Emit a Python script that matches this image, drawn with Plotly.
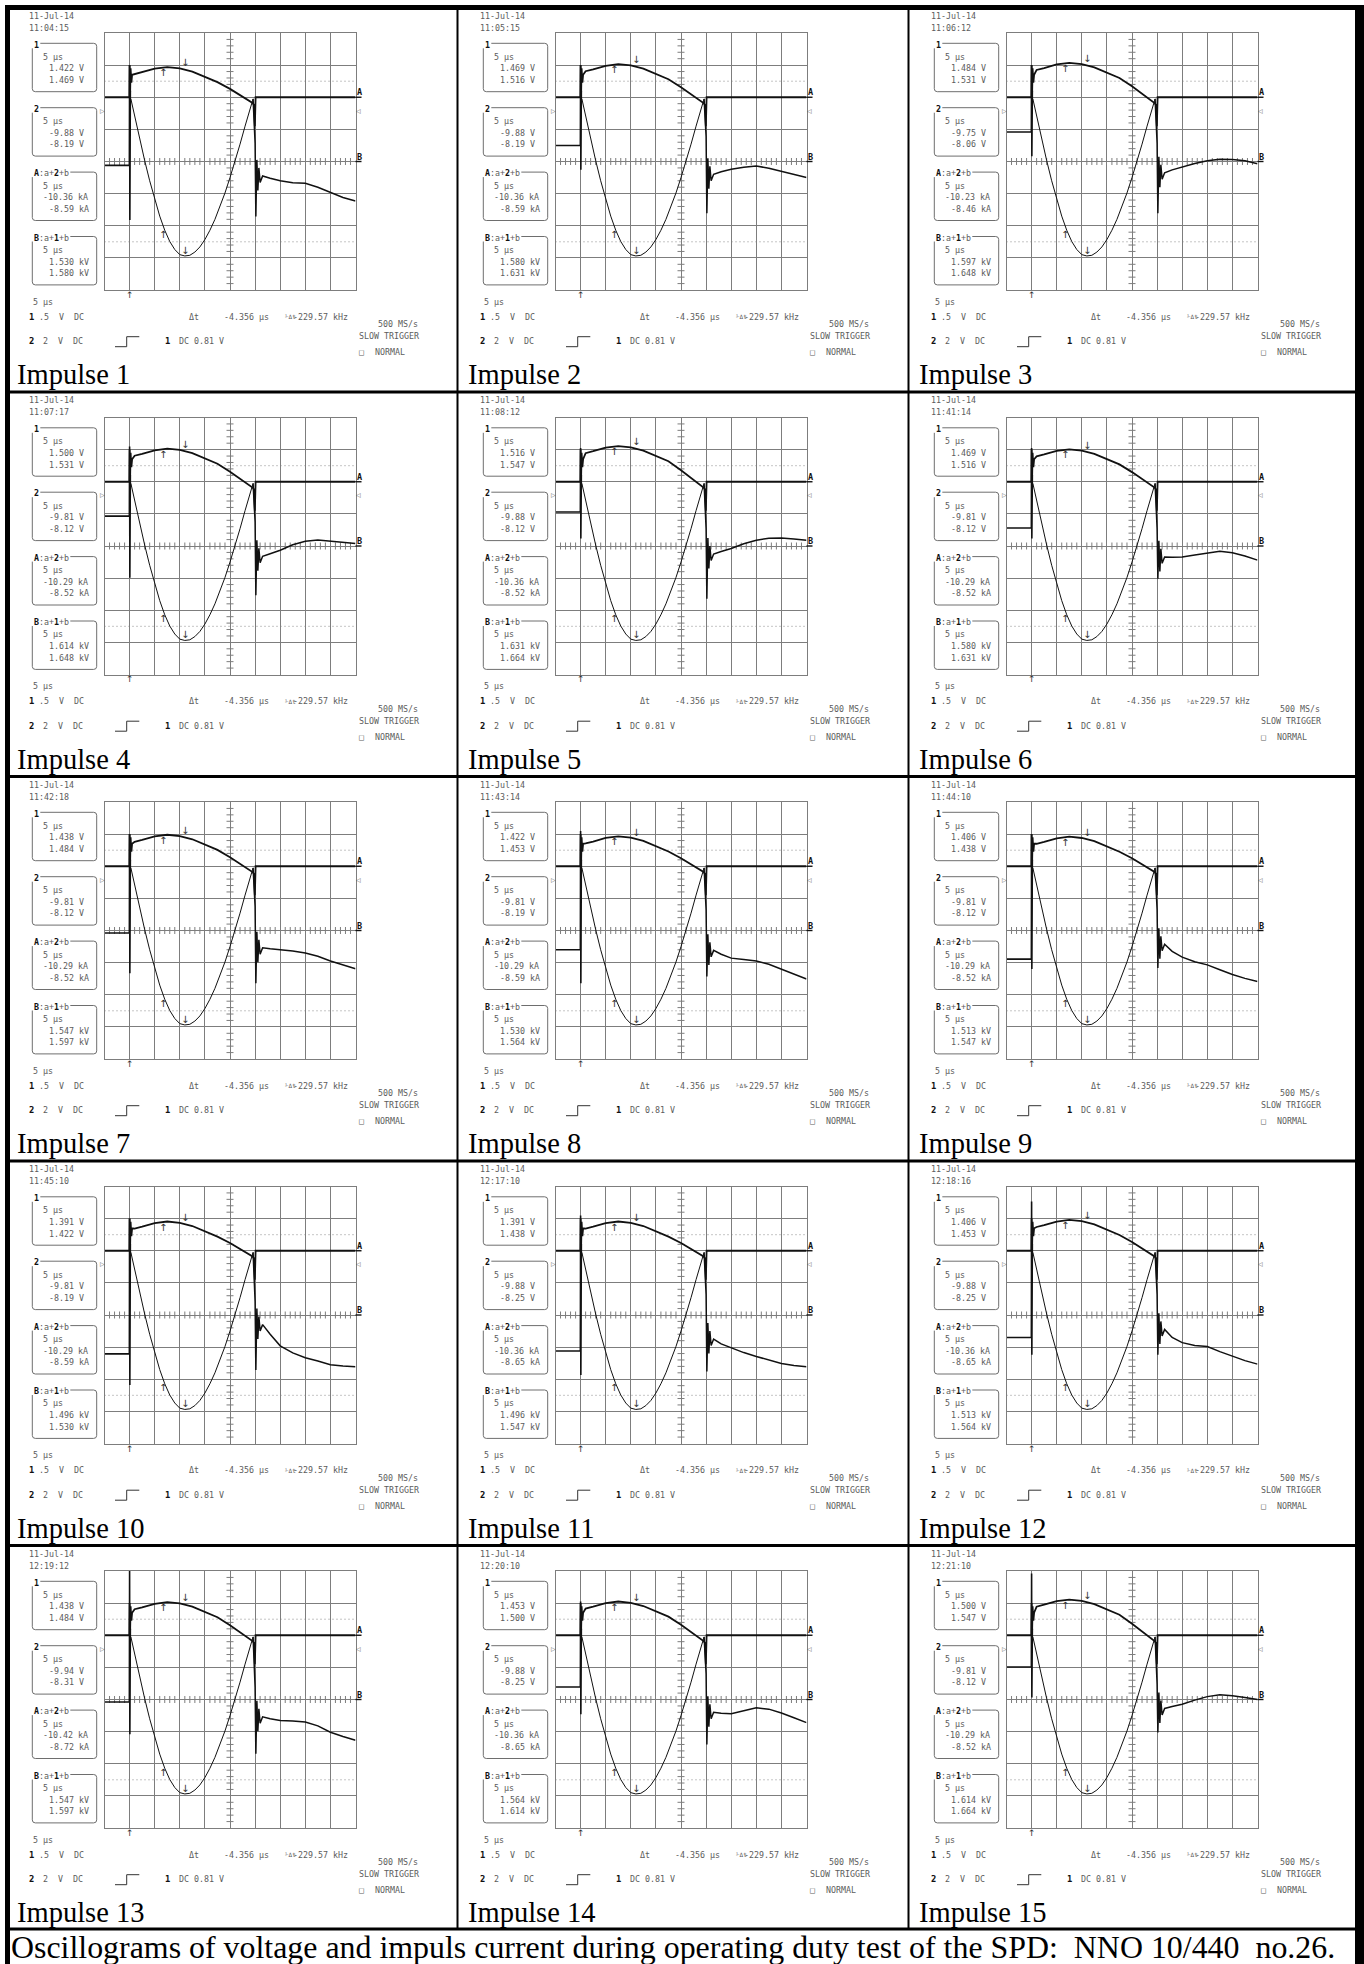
import plotly.graph_objects as go

W, H = 1364, 1964
COL_X = [6.5, 457.5, 908.5]
ROW_Y = [7.5, 392.0, 776.5, 1161.0, 1545.5]

# ---------------- text data ----------------
DATE = "11-Jul-14"
TIMES = ["11:04:15", "11:05:15", "11:06:12", "11:07:17", "11:08:12",
         "11:41:14", "11:42:18", "11:43:14", "11:44:10", "11:45:10",
         "12:17:10", "12:18:16", "12:19:12", "12:20:10", "12:21:10"]
CH1_VALS = [("1.422 V", "1.469 V"), ("1.469 V", "1.516 V"), ("1.484 V", "1.531 V"),
            ("1.500 V", "1.531 V"), ("1.516 V", "1.547 V"), ("1.469 V", "1.516 V"),
            ("1.438 V", "1.484 V"), ("1.422 V", "1.453 V"), ("1.406 V", "1.438 V"),
            ("1.391 V", "1.422 V"), ("1.391 V", "1.438 V"), ("1.406 V", "1.453 V"),
            ("1.438 V", "1.484 V"), ("1.453 V", "1.500 V"), ("1.500 V", "1.547 V")]
CH2_VALS = [("-9.88 V", "-8.19 V"), ("-9.88 V", "-8.19 V"), ("-9.75 V", "-8.06 V"),
            ("-9.81 V", "-8.12 V"), ("-9.88 V", "-8.12 V"), ("-9.81 V", "-8.12 V"),
            ("-9.81 V", "-8.12 V"), ("-9.81 V", "-8.19 V"), ("-9.81 V", "-8.12 V"),
            ("-9.81 V", "-8.19 V"), ("-9.88 V", "-8.25 V"), ("-9.88 V", "-8.25 V"),
            ("-9.94 V", "-8.31 V"), ("-9.88 V", "-8.25 V"), ("-9.81 V", "-8.12 V")]
A_VALS = [("-10.36 kA", "-8.59 kA"), ("-10.36 kA", "-8.59 kA"), ("-10.23 kA", "-8.46 kA"),
          ("-10.29 kA", "-8.52 kA"), ("-10.36 kA", "-8.52 kA"), ("-10.29 kA", "-8.52 kA"),
          ("-10.29 kA", "-8.52 kA"), ("-10.29 kA", "-8.59 kA"), ("-10.29 kA", "-8.52 kA"),
          ("-10.29 kA", "-8.59 kA"), ("-10.36 kA", "-8.65 kA"), ("-10.36 kA", "-8.65 kA"),
          ("-10.42 kA", "-8.72 kA"), ("-10.36 kA", "-8.65 kA"), ("-10.29 kA", "-8.52 kA")]
B_VALS = [("1.530 kV", "1.580 kV"), ("1.580 kV", "1.631 kV"), ("1.597 kV", "1.648 kV"),
          ("1.614 kV", "1.648 kV"), ("1.631 kV", "1.664 kV"), ("1.580 kV", "1.631 kV"),
          ("1.547 kV", "1.597 kV"), ("1.530 kV", "1.564 kV"), ("1.513 kV", "1.547 kV"),
          ("1.496 kV", "1.530 kV"), ("1.496 kV", "1.547 kV"), ("1.513 kV", "1.564 kV"),
          ("1.547 kV", "1.597 kV"), ("1.564 kV", "1.614 kV"), ("1.614 kV", "1.664 kV")]
LABELS = ["Impulse %d" % k for k in range(1, 16)]
CAPTION = ("Oscillograms of voltage and impuls current during operating duty test of the SPD:"
           "\u00a0\u00a0NNO 10/440\u00a0\u00a0no.26.")

# ---------------- trace data (x: divisions 0-10, y: divisions from top 0-8) ----------------
VOLT_X = [0, 0.99, 1.0, 1.02, 1.04, 1.07, 1.1,
          1.2, 1.5, 2.0, 2.5, 3.0, 3.5, 4.0, 4.5, 5.0, 5.5,
          5.9, 5.96, 5.99, 6.02, 10]
VOLT_HEAD = [2.0, 2.0, 1.0, 1.9, 1.1, 1.55, 1.3]
VOLT_END = [2.18, 2.25, 2.9, 2.0, 2.0]
VOLT_MID = [
    [1.28, 1.22, 1.11, 1.06, 1.10, 1.20, 1.36, 1.53, 1.74, 1.98],
    [1.19, 1.13, 1.02, 0.97, 1.01, 1.11, 1.27, 1.44, 1.69, 1.95],
    [1.15, 1.09, 0.98, 0.93, 0.97, 1.07, 1.23, 1.40, 1.66, 1.94],
    [1.19, 1.13, 1.02, 0.97, 1.01, 1.11, 1.27, 1.44, 1.69, 1.95],
    [1.11, 1.05, 0.94, 0.89, 0.93, 1.03, 1.19, 1.36, 1.64, 1.93],
    [1.21, 1.15, 1.04, 0.99, 1.03, 1.13, 1.29, 1.46, 1.70, 1.96],
    [1.24, 1.18, 1.07, 1.02, 1.06, 1.16, 1.32, 1.49, 1.72, 1.97],
    [1.29, 1.23, 1.12, 1.07, 1.11, 1.21, 1.37, 1.54, 1.75, 1.98],
    [1.30, 1.24, 1.13, 1.08, 1.12, 1.22, 1.38, 1.55, 1.75, 1.99],
    [1.31, 1.25, 1.14, 1.09, 1.13, 1.23, 1.39, 1.56, 1.76, 1.99],
    [1.31, 1.25, 1.14, 1.09, 1.13, 1.23, 1.39, 1.56, 1.76, 1.99],
    [1.26, 1.20, 1.09, 1.04, 1.08, 1.18, 1.34, 1.51, 1.73, 1.97],
    [1.19, 1.13, 1.02, 0.97, 1.01, 1.11, 1.27, 1.44, 1.69, 1.95],
    [1.17, 1.11, 1.00, 0.95, 0.99, 1.09, 1.25, 1.42, 1.67, 1.95],
    [1.11, 1.05, 0.94, 0.89, 0.93, 1.03, 1.19, 1.36, 1.64, 1.93],
]

TRIG_X = [0, 0.99, 1.0, 1.01, 1.03]
CUR_PRE = [4.12, 3.50, 3.08, 3.07, 2.94, 3.44, 4.08, 4.60, 4.89, 5.21, 5.12, 4.70, 4.08, 3.61, 2.99]
TRIG_HIGH = [1.0, 1.0, 1.0, 0.9, 0.95, 0.95, 1.0, 0.9, 1.0, 1.0, 0.9, 0.47, 0.0, 0.95, 0.08]
TRIG_LOW = [5.82, 4.26, 3.84, 4.99, 3.77, 3.77, 5.33, 5.64, 5.20, 6.18, 5.87, 5.24, 5.08, 4.46, 3.94]
CUR_JOIN = 1.8

WAVE_X = [1.05, 1.2, 1.4, 1.6, 1.8, 2.0, 2.2, 2.4, 2.6, 2.8, 3.0, 3.2, 3.4, 3.6, 3.8,
          4.0, 4.2, 4.4, 4.6, 4.8, 5.0, 5.2, 5.4, 5.6, 5.8, 5.92]
WAVE_Y = [2.05, 2.58, 3.35, 3.97, 4.60, 5.15, 5.70, 6.14, 6.49, 6.74, 6.90, 6.94, 6.92, 6.82, 6.66,
          6.43, 6.14, 5.80, 5.41, 4.98, 4.50, 4.00, 3.46, 2.90, 2.33, 2.05]

POST_X = [5.92, 6.0, 6.03, 6.07, 6.11, 6.15, 6.2]
SPIKE_HIGH = [3.43, 3.22, 3.43, 3.25, 3.46, 3.46, 3.25, 3.35, 3.35, 3.58, 3.37, 3.37, 3.62, 3.20, 3.52]
SPIKE_LOW = [5.71, 5.61, 5.61, 5.53, 5.64, 5.02, 5.64, 5.43, 5.17, 5.71, 5.76, 5.24, 5.69, 5.40, 5.03]
RING = [
    [3.95, 4.90, 4.20, 4.65], [3.90, 4.85, 4.15, 4.60], [3.85, 4.80, 4.10, 4.55],
    [3.82, 4.77, 4.07, 4.52], [3.75, 4.70, 4.00, 4.45], [3.84, 4.79, 4.09, 4.54],
    [4.04, 4.99, 4.29, 4.74], [4.12, 5.07, 4.37, 4.82], [3.93, 4.88, 4.18, 4.63],
    [3.80, 4.75, 4.05, 4.50], [4.25, 5.20, 4.50, 4.95], [3.95, 4.90, 4.20, 4.65],
    [4.04, 4.99, 4.29, 4.74], [3.90, 4.85, 4.15, 4.60], [3.78, 4.73, 4.03, 4.48],
]
TAIL_X = [6.3, 6.6, 7.0, 7.5, 8.0, 8.5, 9.0, 9.5, 10.0]
TAIL = [
    [4.45, 4.52, 4.60, 4.66, 4.68, 4.80, 4.97, 5.12, 5.23],
    [4.40, 4.32, 4.24, 4.18, 4.14, 4.21, 4.31, 4.41, 4.50],
    [4.35, 4.26, 4.17, 4.06, 3.98, 3.93, 3.94, 3.98, 4.07],
    [4.32, 4.24, 4.13, 3.96, 3.85, 3.81, 3.84, 3.88, 3.92],
    [4.25, 4.17, 4.08, 3.93, 3.82, 3.76, 3.75, 3.78, 3.82],
    [4.34, 4.35, 4.34, 4.28, 4.21, 4.16, 4.21, 4.31, 4.44],
    [4.54, 4.57, 4.60, 4.64, 4.70, 4.80, 4.95, 5.07, 5.19],
    [4.62, 4.74, 4.86, 4.90, 4.95, 5.05, 5.20, 5.35, 5.51],
    [4.43, 4.65, 4.83, 4.97, 5.07, 5.22, 5.37, 5.49, 5.59],
    [4.30, 4.60, 4.96, 5.18, 5.33, 5.43, 5.55, 5.59, 5.61],
    [4.75, 4.90, 5.03, 5.17, 5.29, 5.40, 5.51, 5.57, 5.61],
    [4.45, 4.70, 4.86, 4.95, 4.98, 5.14, 5.29, 5.42, 5.53],
    [4.54, 4.60, 4.65, 4.67, 4.70, 4.82, 5.02, 5.15, 5.27],
    [4.40, 4.43, 4.44, 4.35, 4.26, 4.30, 4.42, 4.57, 4.72],
    [4.28, 4.22, 4.15, 4.02, 3.91, 3.85, 3.88, 3.94, 4.00],
]
CURSOR_X = [2.33, 3.2]
CURSOR_LEVELS = [1.5, 6.5]
MARK_A, MARK_B, TRIG_MARK = 2.0, 4.0, 2.4

# ---------------- styling ----------------
GRID = "#7d7d7d"
INK = "#111111"
GRAY = "#5c5c5c"
MONO = "DejaVu Sans Mono"
SERIF = "Liberation Serif, Times New Roman, serif"
FS = 8.3

fig = go.Figure()
layout = dict(width=W, height=H, margin=dict(l=0, r=0, t=0, b=0),
              paper_bgcolor="white", plot_bgcolor="rgba(0,0,0,0)", showlegend=False)
shapes, anns = [], []


def axn(n, a):
    return a if n == 1 else f"{a}{n}"


def txt(x, y, s, size=FS, color=GRAY, family=MONO, xa="left", ya="middle"):
    anns.append(dict(x=x, y=y, xref="x16", yref="y16", text=s, showarrow=False,
                     xanchor=xa, yanchor=ya, borderpad=0, borderwidth=0,
                     font=dict(size=size, color=color, family=family)))


def dtxt(n, x, y, s, size, color=INK, family="DejaVu Sans", xa="center", ya="middle", xs=0, ys=0):
    anns.append(dict(x=x, y=y, xref=axn(n, "x"), yref=axn(n, "y"), text=s, showarrow=False,
                     xanchor=xa, yanchor=ya, borderpad=0, borderwidth=0, xshift=xs, yshift=ys,
                     font=dict(size=size, color=color, family=family)))


def box_path(x0, y0, x1, y1, gap, r=3):
    return (f"M{x0 + gap},{y0} L{x1 - r},{y0} Q{x1},{y0} {x1},{y0 + r} L{x1},{y1 - r} "
            f"Q{x1},{y1} {x1 - r},{y1} L{x0 + r},{y1} Q{x0},{y1} {x0},{y1 - r} L{x0},{y0 + 5}")


VT = [k / 5 for k in range(1, 40) if k % 5]
HT = [k / 5 for k in range(1, 50) if k % 5]
BOLD = "<span style='color:#111'><b>%s</b></span>"

for i in range(15):
    r, c = divmod(i, 3)
    cx, ry = COL_X[c], ROW_Y[r]
    n = i + 1
    gx0 = cx + 98
    gx1 = gx0 + 251
    gy0 = ry + 25.5
    gy1 = gy0 + 257
    xa, ya = axn(n, "x"), axn(n, "y")
    common = dict(showgrid=True, gridcolor=GRID, gridwidth=1, zeroline=False, showline=True,
                  mirror=True, linecolor=GRID, linewidth=1, showticklabels=False, ticks="",
                  fixedrange=True, dtick=1, tick0=0)
    layout[axn(n, "xaxis")] = dict(domain=[gx0 / W, gx1 / W], range=[0, 10], anchor=ya, **common)
    layout[axn(n, "yaxis")] = dict(domain=[1 - gy1 / H, 1 - gy0 / H], range=[8, 0], anchor=xa, **common)

    # centre graticule ticks
    fig.add_trace(go.Scatter(x=[5] * len(VT), y=VT, xaxis=xa, yaxis=ya, mode="markers", hoverinfo="skip",
                             marker=dict(symbol="line-ew", size=5, line=dict(width=1, color=GRID))))
    fig.add_trace(go.Scatter(x=HT, y=[4] * len(HT), xaxis=xa, yaxis=ya, mode="markers", hoverinfo="skip",
                             marker=dict(symbol="line-ns", size=5, line=dict(width=1, color=GRID))))
    for yv in CURSOR_LEVELS:
        shapes.append(dict(type="line", xref=xa, yref=ya, x0=0, x1=10, y0=yv, y1=yv, layer="below",
                           line=dict(color="#8a8a8a", width=1, dash="1px,3px")))

    # current: pre-trigger + trigger spike
    fig.add_trace(go.Scatter(x=TRIG_X, y=[CUR_PRE[i], CUR_PRE[i], TRIG_HIGH[i], TRIG_LOW[i], CUR_JOIN],
                             xaxis=xa, yaxis=ya, mode="lines", hoverinfo="skip",
                             line=dict(color=INK, width=1.6)))
    # current: main impulse wave
    fig.add_trace(go.Scatter(x=WAVE_X, y=WAVE_Y, xaxis=xa, yaxis=ya, mode="lines", hoverinfo="skip",
                             line=dict(color=INK, width=1.0)))
    # current: post impulse spike, ringing and tail
    fig.add_trace(go.Scatter(x=POST_X + TAIL_X,
                             y=[WAVE_Y[-1], SPIKE_HIGH[i], SPIKE_LOW[i]] + RING[i] + TAIL[i],
                             xaxis=xa, yaxis=ya, mode="lines", hoverinfo="skip",
                             line=dict(color=INK, width=1.5)))
    # voltage
    fig.add_trace(go.Scatter(x=VOLT_X, y=VOLT_HEAD + VOLT_MID[i] + VOLT_END, xaxis=xa, yaxis=ya,
                             mode="lines", hoverinfo="skip", line=dict(color=INK, width=1.8)))

    # cursor arrows
    dtxt(n, CURSOR_X[0], VOLT_MID[i][3], "\u2191", 10, color="#333", ya="top")
    dtxt(n, CURSOR_X[1], VOLT_MID[i][4], "\u2193", 10, color="#333", ya="bottom")
    dtxt(n, CURSOR_X[0], WAVE_Y[7] - 0.05, "\u2191", 10, color="#333", ya="top")
    dtxt(n, CURSOR_X[1], WAVE_Y[11], "\u2193", 10, color="#333", ya="bottom")
    dtxt(n, 1.0, 8.0, "\u2191", 9, color="#333", ya="top")
    # markers around graticule
    dtxt(n, 10, MARK_A, "<b>A</b>", 8.5, family=MONO, xa="left", ya="bottom", xs=1)
    dtxt(n, 10, MARK_B, "<b>B</b>", 8.5, family=MONO, xa="left", ya="bottom", xs=1)
    dtxt(n, 0, TRIG_MARK, "\u25b7", 6, color=GRAY, xa="right")
    dtxt(n, 10, TRIG_MARK, "\u25c1", 6, color=GRAY, xa="left")
    for lev in (MARK_A, MARK_B):
        py = gy0 + lev * 257 / 8
        shapes.append(dict(type="line", xref="x16", yref="y16", x0=gx1, x1=gx1 + 6, y0=py, y1=py,
                           line=dict(color=INK, width=1.4)))

    # header text
    txt(cx + 22.5, ry + 8.0, DATE)
    txt(cx + 22.5, ry + 20.0, TIMES[i])

    # measurement boxes
    box_tops = [35.8, 100.2, 164.6, 229.0]
    box_labels = [BOLD % "1", BOLD % "2",
                  BOLD % "A" + ":a+" + BOLD % "2" + "+b", BOLD % "B" + ":a+" + BOLD % "1" + "+b"]
    box_gaps = [8, 8, 38, 38]
    vals = [CH1_VALS[i], CH2_VALS[i], A_VALS[i], B_VALS[i]]
    for k in range(4):
        t = ry + box_tops[k]
        shapes.append(dict(type="path", xref="x16", yref="y16",
                           path=box_path(cx + 25.8, t, cx + 90.2, t + 48.4, box_gaps[k]),
                           line=dict(color="#6e6e6e", width=1)))
        txt(cx + 27.3, t + 1.2, box_labels[k])
        txt(cx + 36.8, t + 13.4, "5 \u00b5s")
        v1, v2 = vals[k]
        txt(cx + (36.8 if len(v1) > 8 else 42.8), t + 25.0, v1)
        txt(cx + (36.8 if len(v2) > 8 else 42.8), t + 36.7, v2)

    # bottom status text
    txt(cx + 26.8, ry + 294.0, "5 \u00b5s")
    txt(cx + 22.8, ry + 309.2, BOLD % "1", size=8.8)
    txt(cx + 32.8, ry + 309.2, ".5\u00a0\u00a0V\u00a0\u00a0DC")
    txt(cx + 182.8, ry + 309.2, "\u0394t")
    txt(cx + 217.5, ry + 309.2, "-4.356 \u00b5s")
    txt(cx + 278.0, ry + 309.2, "\u215f\u0394t", size=6)
    txt(cx + 286.8, ry + 309.2, "-229.57 kHz")
    txt(cx + 411.8, ry + 316.5, "500 MS/s", xa="right")
    txt(cx + 352.8, ry + 328.5, "SLOW TRIGGER")
    txt(cx + 22.8, ry + 333.5, BOLD % "2", size=8.8)
    txt(cx + 36.8, ry + 333.5, "2\u00a0\u00a0V\u00a0\u00a0DC")
    shapes.append(dict(type="path", xref="x16", yref="y16",
                       path=f"M{cx + 108.5},{ry + 339.2} L{cx + 120.2},{ry + 339.2} "
                            f"L{cx + 120.2},{ry + 329.2} L{cx + 132.8},{ry + 329.2}",
                       line=dict(color="#333333", width=1)))
    txt(cx + 158.5, ry + 333.5, BOLD % "1", size=8.8)
    txt(cx + 172.5, ry + 333.5, "DC 0.81 V")
    txt(cx + 352.8, ry + 344.5, "\u25a1")
    txt(cx + 368.5, ry + 344.5, "NORMAL")
    txt(cx + 10.0, ry + 367.0, LABELS[i], size=28.5, color="black", family=SERIF)

# overlay axis in pixel units
fig.add_trace(go.Scatter(x=[], y=[], xaxis="x16", yaxis="y16", hoverinfo="skip"))
layout["xaxis16"] = dict(domain=[0, 1], range=[0, W], visible=False, fixedrange=True, anchor="y16")
layout["yaxis16"] = dict(domain=[0, 1], range=[H, 0], visible=False, fixedrange=True, anchor="x16")

# page frame
for (x0, x1, y0, y1) in [(5, W, 5, 10), (5, 10, 5, H), (1355, W, 5, H)]:
    shapes.append(dict(type="rect", xref="x16", yref="y16", x0=x0, x1=x1, y0=y0, y1=y1,
                       fillcolor="black", line=dict(width=0)))
for yv in ROW_Y[1:] + [1929.0]:
    shapes.append(dict(type="line", xref="x16", yref="y16", x0=10, x1=1355, y0=yv, y1=yv,
                       line=dict(color="black", width=3)))
for xv in COL_X[1:]:
    shapes.append(dict(type="line", xref="x16", yref="y16", x0=xv, x1=xv, y0=10, y1=1929,
                       line=dict(color="black", width=2)))

txt(10.5, 1947, CAPTION, size=31.9, color="black", family=SERIF)

layout["shapes"] = shapes
layout["annotations"] = anns
fig.update_layout(**layout)
fig.write_html("out.html", config={"displayModeBar": False, "staticPlot": True},
               post_script="document.body.style.margin='0';")
